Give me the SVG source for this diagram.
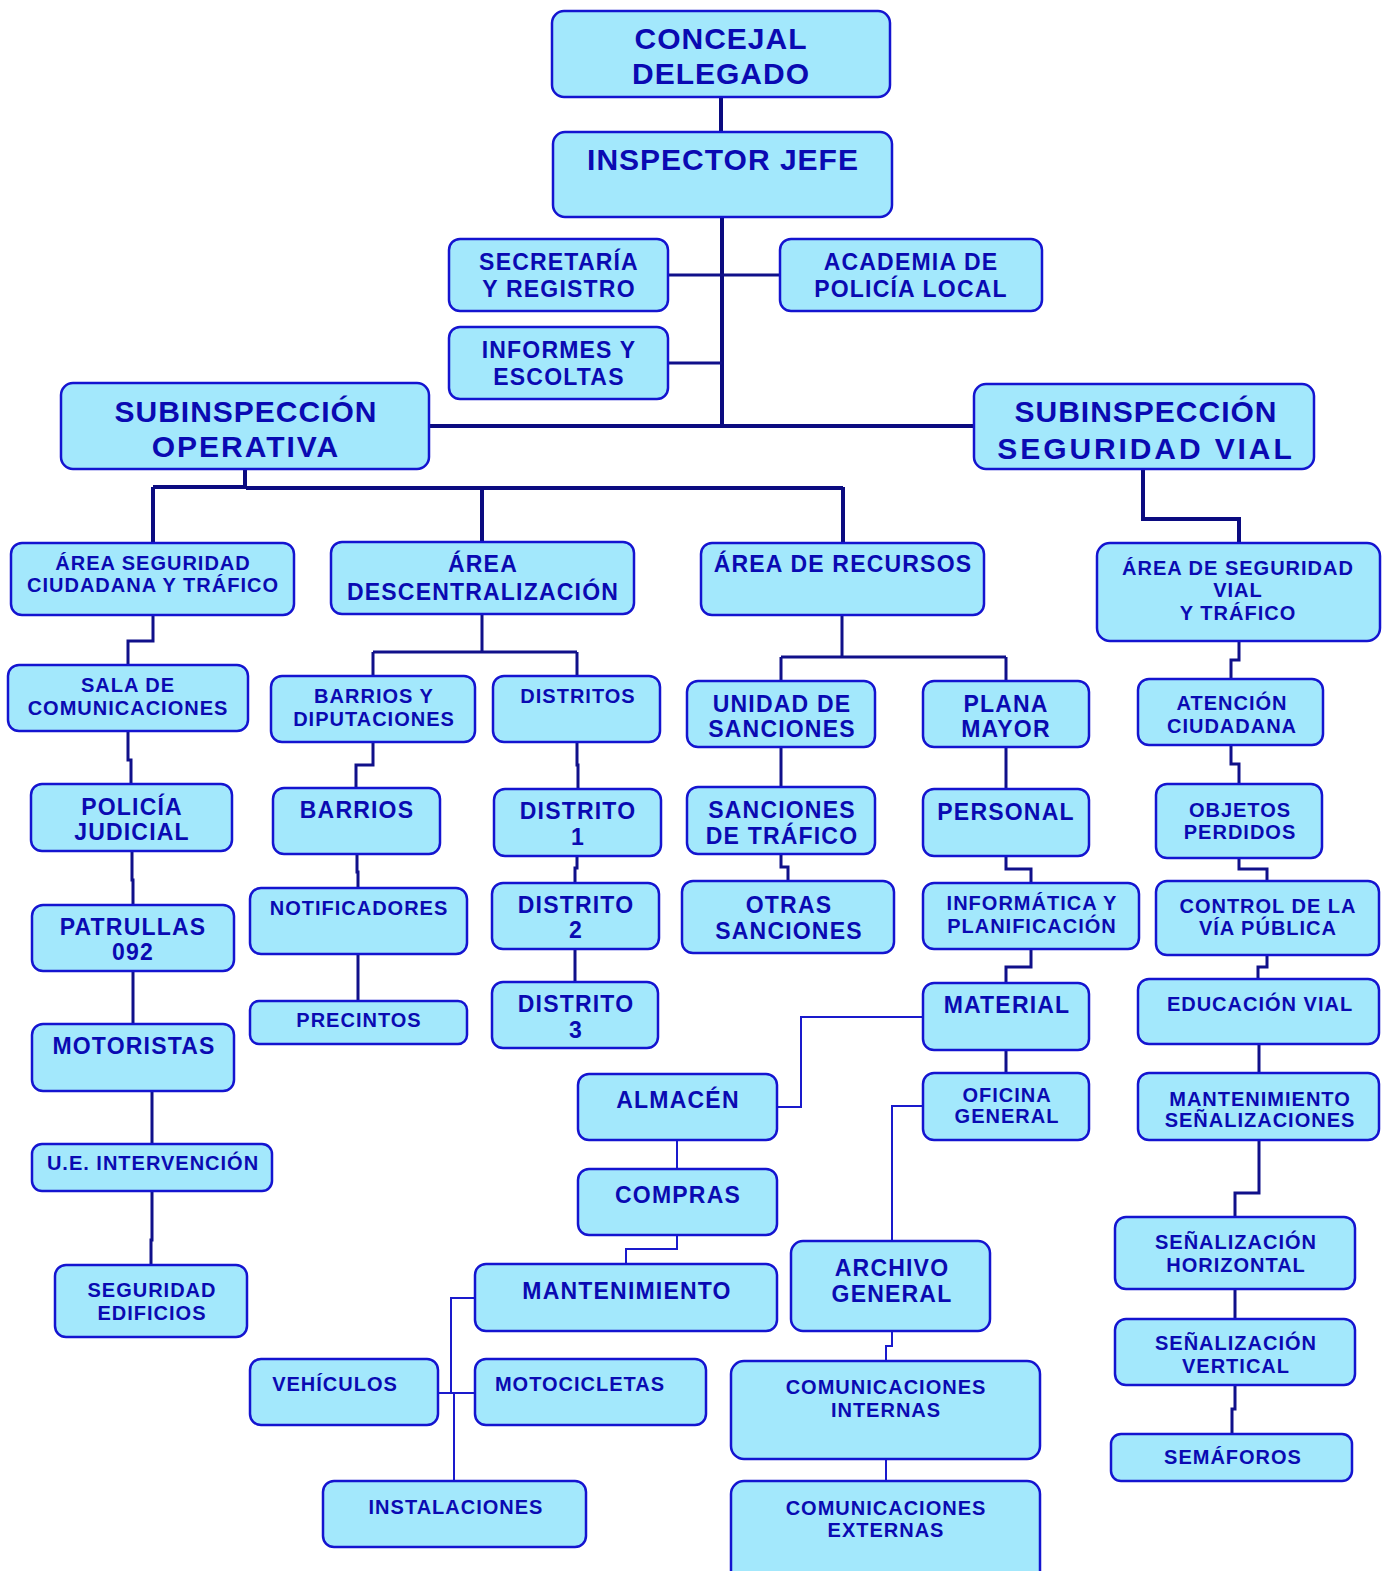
<svg xmlns="http://www.w3.org/2000/svg" width="1387" height="1571" viewBox="0 0 1387 1571">
<style>
.box{fill:#a3e8fc;stroke:#1414d0;stroke-width:2.5}
text{font-family:"Liberation Sans",Arial,sans-serif;font-weight:bold;fill:#0a0ab2;text-anchor:middle}
.b{font-size:30px;letter-spacing:1px}
.m{font-size:23px;letter-spacing:1.2px}
.s{font-size:20px;letter-spacing:1px}
.k1{fill:none;stroke:#0b0b80;stroke-width:4}
.k2{fill:none;stroke:#10108a;stroke-width:3}
.k3{fill:none;stroke:#1a1acc;stroke-width:2}
</style>
<g id="connectors">
<path class="k1" d="M721 97V132M722 217V428M429 426H974M245 469V489M153 487V543M482 487V542M843 487V543M1143 469V519H1239V543"/>
<path class="k1" d="M246 488H843" stroke-width="5"/>
<path class="k1" d="M153 487H246" stroke-width="3"/>
<path class="k2" d="M668 275H780M668 363H722"/>
<path class="k2" d="M153 615V641H128V665M128 731V760H131V784M132 851V880H133V905M133 971V1024M152 1091V1144M152 1191V1240H151V1265"/>
<path class="k2" d="M482 614V652M373 652H577M373 652V676M577 652V676M373 742V765H356V788M357 854V872H358V888M358 954V1001M577 742V765H578V789M577 856V868H575V883M575 949V982"/>
<path class="k2" d="M842 615V657M781 657H1006M781 657V681M1006 657V681M781 747V787M781 854V867H788V881M1006 747V789M1006 856V869H1031V883M1031 949V967H1006V983M1006 1050V1073"/>
<path class="k2" d="M1239 641V660H1231V679M1231 745V764H1239V784M1239 858V869H1267V881M1267 955V967H1258V979M1259 1044V1073M1259 1140V1193H1235V1217M1235 1289V1319M1235 1385V1409H1232V1434"/>
<path class="k3" d="M923 1017H801V1107H777M923 1106H892V1241M892 1331V1346H886V1361M886 1459V1481M677 1140V1169M677 1235V1249H626V1264M475 1298H451V1393M454 1393V1481"/>
<path class="k3" d="M438 1393H475" stroke-width="3"/>
</g>
<g id="n-concejal"><rect class="box" x="552" y="11" width="338" height="86" rx="12"/><text class="b" letter-spacing="0.4"><tspan x="721" y="49">CONCEJAL</tspan><tspan x="721" y="84">DELEGADO</tspan></text></g>
<g id="n-inspector"><rect class="box" x="553" y="132" width="339" height="85" rx="12"/><text class="b" x="723" y="170" letter-spacing="1.4">INSPECTOR JEFE</text></g>
<g id="n-secretaria"><rect class="box" x="449" y="239" width="219" height="72" rx="11"/><text class="m"><tspan x="559" y="270">SECRETARÍA</tspan><tspan x="559" y="297">Y REGISTRO</tspan></text></g>
<g id="n-academia"><rect class="box" x="780" y="239" width="262" height="72" rx="11"/><text class="m"><tspan x="911" y="270">ACADEMIA DE</tspan><tspan x="911" y="297">POLICÍA LOCAL</tspan></text></g>
<g id="n-informes"><rect class="box" x="449" y="327" width="219" height="72" rx="11"/><text class="m"><tspan x="559" y="358">INFORMES Y</tspan><tspan x="559" y="385">ESCOLTAS</tspan></text></g>
<g id="n-sub-operativa"><rect class="box" x="61" y="383" width="368" height="86" rx="12"/><text class="b" letter-spacing="2.2"><tspan x="246" y="422">SUBINSPECCIÓN</tspan><tspan x="246" y="457" letter-spacing="2">OPERATIVA</tspan></text></g>
<g id="n-sub-vial"><rect class="box" x="974" y="384" width="340" height="85" rx="12"/><text class="b" letter-spacing="2.2"><tspan x="1146" y="422">SUBINSPECCIÓN</tspan><tspan x="1146" y="459" letter-spacing="2.9">SEGURIDAD VIAL</tspan></text></g>
<g id="n-area-ciudadana"><rect class="box" x="11" y="543" width="283" height="72" rx="11"/><text class="s"><tspan x="153" y="570">ÁREA SEGURIDAD</tspan><tspan x="153" y="592">CIUDADANA Y TRÁFICO</tspan></text></g>
<g id="n-sala"><rect class="box" x="8" y="665" width="240" height="66" rx="11"/><text class="s" letter-spacing="0.6"><tspan x="128" y="692">SALA DE</tspan><tspan x="128" y="715">COMUNICACIONES</tspan></text></g>
<g id="n-judicial"><rect class="box" x="31" y="784" width="201" height="67" rx="11"/><text class="m"><tspan x="132" y="815">POLICÍA</tspan><tspan x="132" y="840">JUDICIAL</tspan></text></g>
<g id="n-patrullas"><rect class="box" x="32" y="905" width="202" height="66" rx="11"/><text class="m"><tspan x="133" y="935">PATRULLAS</tspan><tspan x="133" y="960">092</tspan></text></g>
<g id="n-motoristas"><rect class="box" x="32" y="1024" width="202" height="67" rx="11"/><text class="m" x="134" y="1054" letter-spacing="0.8">MOTORISTAS</text></g>
<g id="n-intervencion"><rect class="box" x="32" y="1144" width="240" height="47" rx="10"/><text class="s" x="153" y="1170">U.E. INTERVENCIÓN</text></g>
<g id="n-edificios"><rect class="box" x="55" y="1265" width="192" height="72" rx="11"/><text class="s"><tspan x="152" y="1297">SEGURIDAD</tspan><tspan x="152" y="1320">EDIFICIOS</tspan></text></g>
<g id="n-descentralizacion"><rect class="box" x="331" y="542" width="303" height="72" rx="11"/><text class="m" font-size="22" letter-spacing="1"><tspan x="483" y="572">ÁREA</tspan><tspan x="483" y="600">DESCENTRALIZACIÓN</tspan></text></g>
<g id="n-barrios-dip"><rect class="box" x="271" y="676" width="204" height="66" rx="11"/><text class="s"><tspan x="374" y="703">BARRIOS Y</tspan><tspan x="374" y="726">DIPUTACIONES</tspan></text></g>
<g id="n-barrios"><rect class="box" x="273" y="788" width="167" height="66" rx="11"/><text class="m" x="357" y="818">BARRIOS</text></g>
<g id="n-notificadores"><rect class="box" x="250" y="888" width="217" height="66" rx="11"/><text class="s" x="359" y="915">NOTIFICADORES</text></g>
<g id="n-precintos"><rect class="box" x="250" y="1001" width="217" height="43" rx="9"/><text class="s" x="359" y="1027">PRECINTOS</text></g>
<g id="n-distritos"><rect class="box" x="493" y="676" width="167" height="66" rx="11"/><text class="s" x="578" y="703">DISTRITOS</text></g>
<g id="n-distrito1"><rect class="box" x="494" y="789" width="167" height="67" rx="11"/><text class="m"><tspan x="578" y="819">DISTRITO</tspan><tspan x="578" y="845">1</tspan></text></g>
<g id="n-distrito2"><rect class="box" x="492" y="883" width="167" height="66" rx="11"/><text class="m"><tspan x="576" y="913">DISTRITO</tspan><tspan x="576" y="938">2</tspan></text></g>
<g id="n-distrito3"><rect class="box" x="492" y="982" width="166" height="66" rx="11"/><text class="m"><tspan x="576" y="1012">DISTRITO</tspan><tspan x="576" y="1038">3</tspan></text></g>
<g id="n-recursos"><rect class="box" x="701" y="543" width="283" height="72" rx="11"/><text class="m" font-size="21" letter-spacing="0.6" x="843" y="572">ÁREA DE RECURSOS</text></g>
<g id="n-unidad-sanciones"><rect class="box" x="687" y="681" width="188" height="66" rx="11"/><text class="m"><tspan x="782" y="712">UNIDAD DE</tspan><tspan x="782" y="737">SANCIONES</tspan></text></g>
<g id="n-sanciones-trafico"><rect class="box" x="687" y="787" width="188" height="67" rx="11"/><text class="m"><tspan x="782" y="818">SANCIONES</tspan><tspan x="782" y="844">DE TRÁFICO</tspan></text></g>
<g id="n-otras-sanciones"><rect class="box" x="682" y="881" width="212" height="72" rx="11"/><text class="m"><tspan x="789" y="913">OTRAS</tspan><tspan x="789" y="939">SANCIONES</tspan></text></g>
<g id="n-plana-mayor"><rect class="box" x="923" y="681" width="166" height="66" rx="11"/><text class="m"><tspan x="1006" y="712">PLANA</tspan><tspan x="1006" y="737">MAYOR</tspan></text></g>
<g id="n-personal"><rect class="box" x="923" y="789" width="166" height="67" rx="11"/><text class="m" x="1006" y="820">PERSONAL</text></g>
<g id="n-informatica"><rect class="box" x="923" y="883" width="216" height="66" rx="11"/><text class="s"><tspan x="1032" y="910">INFORMÁTICA Y</tspan><tspan x="1032" y="933">PLANIFICACIÓN</tspan></text></g>
<g id="n-material"><rect class="box" x="923" y="983" width="166" height="67" rx="11"/><text class="m" x="1007" y="1013">MATERIAL</text></g>
<g id="n-oficina"><rect class="box" x="923" y="1073" width="166" height="67" rx="11"/><text class="s"><tspan x="1007" y="1102">OFICINA</tspan><tspan x="1007" y="1123">GENERAL</tspan></text></g>
<g id="n-archivo"><rect class="box" x="791" y="1241" width="199" height="90" rx="12"/><text class="m"><tspan x="892" y="1276">ARCHIVO</tspan><tspan x="892" y="1302">GENERAL</tspan></text></g>
<g id="n-com-internas"><rect class="box" x="731" y="1361" width="309" height="98" rx="13"/><text class="s"><tspan x="886" y="1394">COMUNICACIONES</tspan><tspan x="886" y="1417">INTERNAS</tspan></text></g>
<g id="n-com-externas"><rect class="box" x="731" y="1481" width="309" height="110" rx="13"/><text class="s"><tspan x="886" y="1515">COMUNICACIONES</tspan><tspan x="886" y="1537">EXTERNAS</tspan></text></g>
<g id="n-almacen"><rect class="box" x="578" y="1074" width="199" height="66" rx="11"/><text class="m" letter-spacing="0.4" x="678" y="1108">ALMACÉN</text></g>
<g id="n-compras"><rect class="box" x="578" y="1169" width="199" height="66" rx="11"/><text class="m" letter-spacing="0.4" x="678" y="1203">COMPRAS</text></g>
<g id="n-mantenimiento"><rect class="box" x="475" y="1264" width="302" height="67" rx="11"/><text class="m" x="627" y="1299">MANTENIMIENTO</text></g>
<g id="n-vehiculos"><rect class="box" x="250" y="1359" width="188" height="66" rx="11"/><text class="s" x="335" y="1391">VEHÍCULOS</text></g>
<g id="n-motocicletas"><rect class="box" x="475" y="1359" width="231" height="66" rx="11"/><text class="s" letter-spacing="0.4" x="580" y="1391">MOTOCICLETAS</text></g>
<g id="n-instalaciones"><rect class="box" x="323" y="1481" width="263" height="66" rx="11"/><text class="s" x="456" y="1514">INSTALACIONES</text></g>
<g id="n-area-vial"><rect class="box" x="1097" y="543" width="283" height="98" rx="13"/><text class="s"><tspan x="1238" y="575">ÁREA DE SEGURIDAD</tspan><tspan x="1238" y="597">VIAL</tspan><tspan x="1238" y="620">Y TRÁFICO</tspan></text></g>
<g id="n-atencion"><rect class="box" x="1138" y="679" width="185" height="66" rx="11"/><text class="s"><tspan x="1232" y="710">ATENCIÓN</tspan><tspan x="1232" y="733">CIUDADANA</tspan></text></g>
<g id="n-objetos"><rect class="box" x="1156" y="784" width="166" height="74" rx="11"/><text class="s"><tspan x="1240" y="817">OBJETOS</tspan><tspan x="1240" y="839">PERDIDOS</tspan></text></g>
<g id="n-control"><rect class="box" x="1156" y="881" width="223" height="74" rx="11"/><text class="s"><tspan x="1268" y="913">CONTROL DE LA</tspan><tspan x="1268" y="935">VÍA PÚBLICA</tspan></text></g>
<g id="n-educacion"><rect class="box" x="1138" y="979" width="241" height="65" rx="11"/><text class="s" x="1260" y="1011">EDUCACIÓN VIAL</text></g>
<g id="n-mant-senal"><rect class="box" x="1138" y="1073" width="241" height="67" rx="11"/><text class="s"><tspan x="1260" y="1106">MANTENIMIENTO</tspan><tspan x="1260" y="1127">SEÑALIZACIONES</tspan></text></g>
<g id="n-senal-horizontal"><rect class="box" x="1115" y="1217" width="240" height="72" rx="11"/><text class="s"><tspan x="1236" y="1249">SEÑALIZACIÓN</tspan><tspan x="1236" y="1272">HORIZONTAL</tspan></text></g>
<g id="n-senal-vertical"><rect class="box" x="1115" y="1319" width="240" height="66" rx="11"/><text class="s"><tspan x="1236" y="1350">SEÑALIZACIÓN</tspan><tspan x="1236" y="1373">VERTICAL</tspan></text></g>
<g id="n-semaforos"><rect class="box" x="1111" y="1434" width="241" height="47" rx="10"/><text class="s" x="1233" y="1464">SEMÁFOROS</text></g>
</svg>
